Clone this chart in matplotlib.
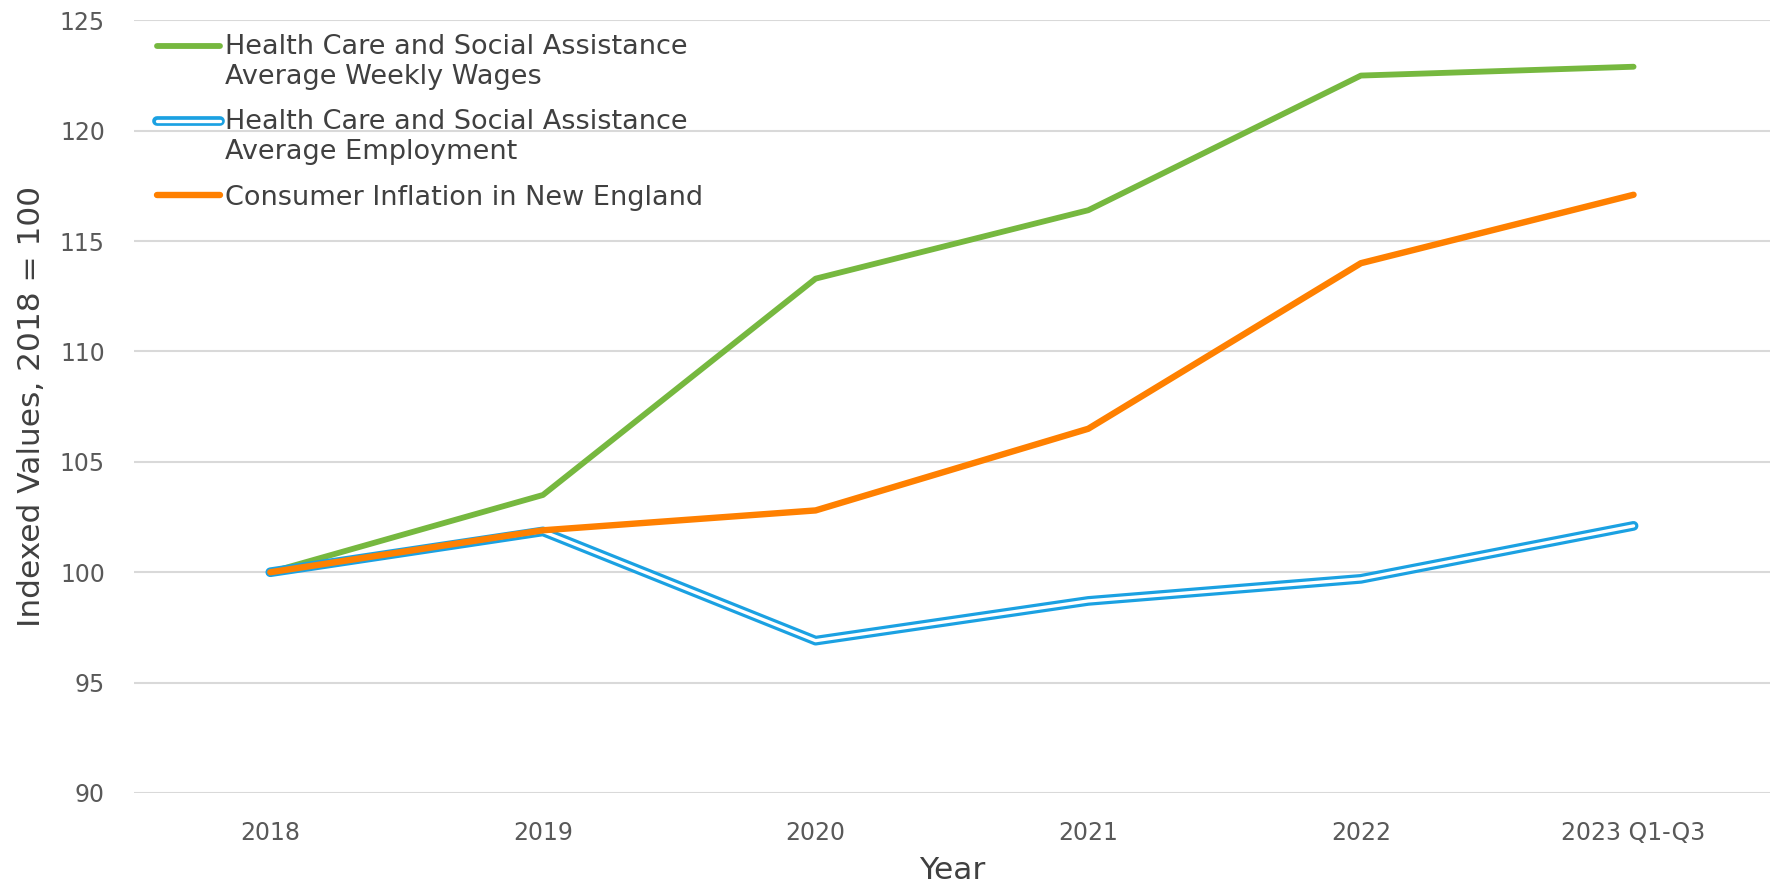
import matplotlib
matplotlib.use("Agg")
import matplotlib.pyplot as plt
import matplotlib.patheffects as pe
from matplotlib.legend_handler import HandlerLine2D

categories = ["2018", "2019", "2020", "2021", "2022", "2023 Q1-Q3"]
wages = [100, 103.5, 113.3, 116.4, 122.5, 122.9]
employment = [100, 101.85, 96.9, 98.7, 99.7, 102.1]
inflation = [100, 101.9, 102.8, 106.5, 114.0, 117.1]
labels = ["Health Care and Social Assistance\nAverage Weekly Wages",
          "Health Care and Social Assistance\nAverage Employment",
          "Consumer Inflation in New England"]
yticks = [90, 95, 100, 105, 110, 115, 120, 125]


class UpHandler(HandlerLine2D):
    def __init__(self, dy=0, **kw):
        super().__init__(**kw)
        self.dy = dy

    def create_artists(self, legend, orig_handle, xdescent, ydescent, width,
                       height, fontsize, trans):
        return super().create_artists(legend, orig_handle, xdescent,
                                      ydescent - self.dy, width, height,
                                      fontsize, trans)


plt.rcParams['font.family'] = ['DejaVu Sans']
fig = plt.figure(figsize=(17.77, 8.86), dpi=100)
ax = fig.add_axes([0.0754, 0.105, 0.9206, 0.872])

x = list(range(len(categories)))
green = "#76B83F"
blue = "#1BA1E2"
orange = "#FF8000"

l1, = ax.plot(x, wages, color=green, lw=4.2, solid_capstyle='round',
              label=labels[0], zorder=3)
l2, = ax.plot(x, employment, color=blue, lw=7, solid_capstyle='round',
              label=labels[1], zorder=3,
              path_effects=[pe.Stroke(linewidth=7, foreground=blue),
                            pe.Stroke(linewidth=2.4, foreground='white')])
l3, = ax.plot(x, inflation, color=orange, lw=4.6, solid_capstyle='round',
              label=labels[2], zorder=4)

ax.set_xlim(-0.5, len(categories) - 0.5)
ax.set_ylim(90, 125)
ax.set_yticks(yticks)
ax.set_xticks(x)
ax.set_xticklabels(categories)
ax.grid(axis='y', color='#D9D9D9', lw=1.5)
ax.set_axisbelow(True)
for s in ax.spines.values():
    s.set_visible(False)
ax.tick_params(length=0, labelsize=17, colors='#595959')
ax.tick_params(axis='x', pad=20)
ax.tick_params(axis='y', pad=21)
ax.set_ylabel("Indexed Values, 2018 = 100", fontsize=22.5, color='#404040',
              labelpad=10)
ax.set_xlabel("Year", fontsize=22.5, color='#404040', labelpad=8)

leg = ax.legend(handles=[l1, l2, l3], loc='upper left',
                bbox_to_anchor=(0.006, 1.0),
                frameon=False, fontsize=19.5, labelcolor='#404040',
                handlelength=2.3, handletextpad=0.2, labelspacing=0.72,
                borderaxespad=0.1,
                handler_map={l1: UpHandler(dy=24), l2: UpHandler(dy=24)})
for t in leg.get_texts():
    t.set_linespacing(1.2)

fig.savefig("out.png", dpi=100)
